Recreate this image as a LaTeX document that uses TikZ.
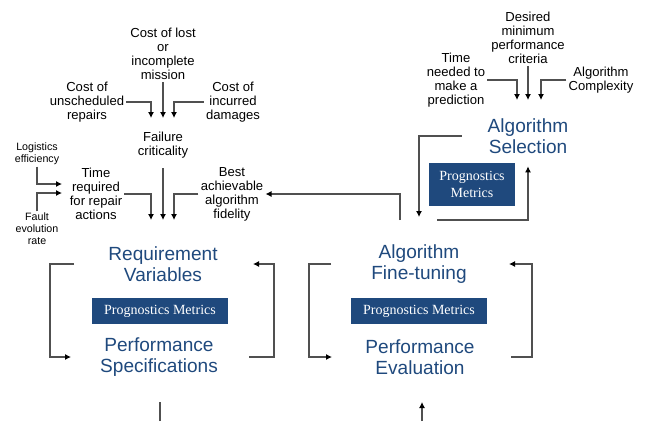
\documentclass[tikz,border=0pt]{standalone}
\usepackage{xcolor}
\usepackage{fontspec}
\setmainfont{Liberation Sans}
\newfontfamily\metricfont{Liberation Serif}
\usepackage{tikz}
\usetikzlibrary{arrows.meta,positioning}
\definecolor{navy}{RGB}{31,73,125}
\definecolor{linegray}{RGB}{80,80,80}

\begin{document}
\begin{tikzpicture}[x=0.75pt,y=-0.75pt,
    lbl/.style={align=center,font=\fontsize{9.8}{10.5}\selectfont,inner sep=1.5pt},
    tinylbl/.style={align=center,font=\fontsize{8}{9}\selectfont,inner sep=1pt},
    stage/.style={align=center,text=navy,font=\fontsize{14.3}{16}\selectfont},
    metric/.style={fill=navy,text=white,align=center,inner sep=1pt,
        font=\metricfont\fontsize{10.5}{12.8}\selectfont},
    arr/.style={draw=linegray,line width=0.8pt,-{Latex[black,length=4.5pt,width=4.5pt]}},
    plain/.style={draw=linegray,line width=0.8pt}]
			\useasboundingbox (0,0) rectangle (645,421);

			% ---------------- Requirements (Top Left) ----------------
			\node[lbl] (lost) at (163,54) {Cost of lost\\or\\incomplete\\mission};
			\node[lbl] (unsch) at (87,102) {Cost of\\unscheduled\\repairs};
			\node[lbl] (dmg) at (233,102) {Cost of\\incurred\\damages};
			\node[lbl] (crit) at (163,145) {Failure\\criticality};
			\node[tinylbl] (logi) at (37,154) {Logistics\\efficiency};
			\node[tinylbl] (fault) at (37,229) {Fault\\evolution\\rate};
			\node[lbl] (trep) at (96,194) {Time\\required\\for repair\\actions};
			\node[lbl] (fid) at (232,194) {Best\\achievable\\algorithm\\fidelity};

			% Arrow tips
			\coordinate (a1) at (151,118);
			\coordinate (a2) at (163,118);
			\coordinate (a3) at (174,118);
			\coordinate (b1) at (151,220);
			\coordinate (b2) at (163,220);
			\coordinate (b3) at (174,220);
			\coordinate (le) at (62,184);
			\coordinate (fe) at (62,193);

			% Edges
			\draw[arr] (unsch.east) -| (a1);
			\draw[arr] (lost.south) -- (a2);
			\draw[arr] (dmg.west) -| (a3);
			\draw[arr] (trep.east) -| (b1);
			\draw[arr,shorten <=6pt] (crit.south) -- (b2);
			\draw[arr] (fid.west) -| (b3);
			\draw[arr] (logi.south) |- (le);
			\draw[arr] (fault.north) |- (fe);

			% ---------------- Selection (Top Right) ----------------
			\node[lbl] (perf) at (528,38) {Desired\\minimum\\performance\\criteria};
			\node[lbl] (tpred) at (456,80) {Time\\needed to\\make a\\prediction};
			\node[lbl] (cplx) at (601,80) {Algorithm\\Complexity};
			\node[stage] (sel) at (528,136) {Algorithm\\Selection};
			\node[metric,minimum width=64.5pt,minimum height=32pt] (selm) at (472,184.5) {Prognostics\\Metrics};

			% Arrow tips
			\coordinate (c1) at (517,100);
			\coordinate (c2) at (528,100);
			\coordinate (c3) at (541,100);
			\coordinate (d1) at (419,217);
			\coordinate (e0) at (437,220);
			\coordinate (f0) at (400,220);

			% Edges
			\draw[arr] (tpred.east) -| (c1);
			\draw[arr] (perf.south) -- (c2);
			\draw[arr] (cplx.west) -| (c3);
			\draw[arr,shorten <=16pt] (sel.west) -| (d1);
			\draw[arr,shorten >=6pt] (e0) -| (sel.south);
			\draw[arr] (f0) |- (fid.east);

			% ---------------- Specifications (Bottom Left) ----------------
			\node[stage] (req) at (163,264) {Requirement\\Variables};
			\node[metric,minimum width=102pt,minimum height=19.5pt] (reqm) at (160,311) {Prognostics Metrics};
			\node[stage] (spec) at (159,357) {Performance\\Specifications};

			% Bracket ends
			\coordinate (rl0) at (74,264);
			\coordinate (rl1) at (71,357);
			\coordinate (rr0) at (249,357);
			\coordinate (rr1) at (253,264);
			\coordinate (outL) at (160,421);

			% Edges
			\draw[arr] (rl0) -- (50,264) |- (rl1);
			\draw[arr] (rr0) -- (274,357) |- (rr1);
			\draw[plain] (outL) -- ++(0,-19);

			% ---------------- Evaluation (Bottom Right) ----------------
			\node[stage] (tune) at (419,264) {Algorithm\\Fine-tuning};
			\node[metric,minimum width=102pt,minimum height=19.5pt] (tunem) at (419,311) {Prognostics Metrics};
			\node[stage] (eval) at (420,357) {Performance\\Evaluation};

			% Bracket ends
			\coordinate (tl0) at (331,264);
			\coordinate (tl1) at (332,357);
			\coordinate (tr0) at (511,357);
			\coordinate (tr1) at (509,264);
			\coordinate (inR) at (422,421);

			% Edges
			\draw[arr] (tl0) -- (309,264) |- (tl1);
			\draw[arr] (tr0) -- (532,357) |- (tr1);
			\draw[arr] (inR) -- ++(0,-19);
		\end{tikzpicture}
\end{document}
